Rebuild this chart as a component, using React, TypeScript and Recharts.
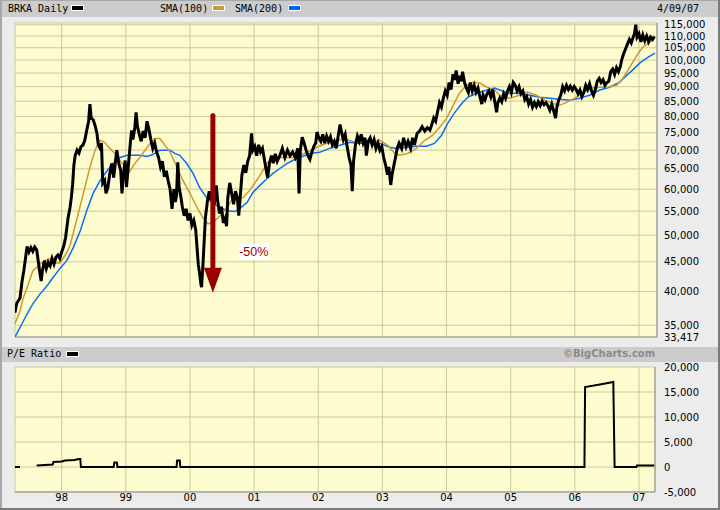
import React from 'react';
import { ComposedChart, Line, XAxis, YAxis, CartesianGrid, ReferenceLine, ReferenceDot } from 'recharts';

// ---------- data ----------
const yearTicks = [1998, 1999, 2000, 2001, 2002, 2003, 2004, 2005, 2006, 2007];
const priceTicks = [33417, 35000, 40000, 45000, 50000, 55000, 60000, 65000, 70000, 75000, 80000, 85000, 90000, 95000, 100000, 105000, 110000, 115000];
const peTicks = [-5000, 0, 5000, 10000, 15000, 20000];

// [date (decimal year), BRKA daily price]
const priceSeries: [number, number][] = [
  [1997.27, 36800], [1997.30, 38200], [1997.35, 39000], [1997.38, 41500], [1997.41, 43500], [1997.44, 46000],
  [1997.46, 47800], [1997.49, 46800], [1997.52, 47600], [1997.55, 46900], [1997.58, 47700], [1997.61, 47200],
  [1997.63, 45500], [1997.66, 43000], [1997.68, 41700], [1997.70, 43500], [1997.73, 45200], [1997.76, 43800],
  [1997.79, 44900], [1997.82, 44300], [1997.85, 45600], [1997.88, 44600], [1997.91, 45800], [1997.94, 46200],
  [1997.97, 45600], [1998.00, 46800], [1998.03, 47800], [1998.06, 49500], [1998.08, 51500], [1998.10, 53600],
  [1998.13, 55800], [1998.15, 58000], [1998.17, 61000], [1998.19, 66000], [1998.21, 68500], [1998.24, 70000],
  [1998.27, 69200], [1998.30, 71000], [1998.33, 71400], [1998.36, 72800], [1998.39, 75700], [1998.42, 78500],
  [1998.44, 84000], [1998.46, 79400], [1998.49, 79000], [1998.52, 77200], [1998.55, 74800], [1998.57, 71500],
  [1998.60, 70500], [1998.62, 72000], [1998.64, 61400], [1998.67, 62100], [1998.69, 59000], [1998.72, 60400],
  [1998.75, 63800], [1998.78, 66400], [1998.81, 62800], [1998.84, 67200], [1998.86, 70000], [1998.89, 66400],
  [1998.92, 64600], [1998.94, 59000], [1998.96, 63300], [1998.99, 67200], [1999.01, 60500], [1999.04, 66000],
  [1999.07, 72000], [1999.09, 75700], [1999.11, 73000], [1999.14, 76500], [1999.16, 81300], [1999.18, 77000],
  [1999.21, 74500], [1999.24, 72500], [1999.27, 75500], [1999.30, 73500], [1999.33, 78500], [1999.36, 76000],
  [1999.39, 73000], [1999.42, 70500], [1999.45, 72000], [1999.48, 69500], [1999.51, 68000], [1999.54, 65500],
  [1999.57, 67000], [1999.60, 63000], [1999.63, 64500], [1999.66, 62000], [1999.69, 60000], [1999.72, 55500],
  [1999.75, 60000], [1999.77, 57000], [1999.79, 58500], [1999.81, 66700], [1999.83, 60500], [1999.86, 58000],
  [1999.88, 56000], [1999.91, 54000], [1999.94, 55500], [1999.97, 53000], [2000.00, 54500], [2000.03, 52000],
  [2000.06, 53000], [2000.09, 51000], [2000.11, 47600], [2000.13, 44500], [2000.15, 43000], [2000.17, 41200],
  [2000.18, 40700], [2000.20, 44000], [2000.22, 48500], [2000.24, 53500], [2000.27, 57000], [2000.30, 59500],
  [2000.33, 57500], [2000.35, 59000], [2000.38, 56500], [2000.41, 60900], [2000.43, 57500], [2000.46, 54500],
  [2000.49, 56000], [2000.52, 52500], [2000.55, 53500], [2000.57, 51800], [2000.59, 58000], [2000.62, 61500],
  [2000.65, 59000], [2000.68, 56500], [2000.71, 59500], [2000.74, 58000], [2000.76, 54000], [2000.78, 57500],
  [2000.81, 63500], [2000.84, 66000], [2000.87, 64000], [2000.90, 67000], [2000.93, 68500], [2000.96, 74800],
  [2000.98, 70000], [2001.01, 71000], [2001.04, 68500], [2001.07, 71500], [2001.10, 69500], [2001.13, 70500],
  [2001.16, 67500], [2001.19, 64500], [2001.21, 62800], [2001.24, 66500], [2001.27, 68500], [2001.30, 66500],
  [2001.33, 69000], [2001.36, 67000], [2001.40, 68500], [2001.44, 70500], [2001.48, 68000], [2001.52, 70000],
  [2001.56, 68500], [2001.60, 69500], [2001.64, 68000], [2001.68, 70500], [2001.70, 59000], [2001.72, 70000],
  [2001.75, 73700], [2001.78, 72000], [2001.81, 70000], [2001.84, 68500], [2001.87, 67500], [2001.90, 69500],
  [2001.93, 71000], [2001.96, 72000], [2001.98, 75200], [2002.01, 73500], [2002.04, 72500], [2002.07, 74500],
  [2002.10, 72000], [2002.13, 74000], [2002.16, 72500], [2002.19, 73800], [2002.22, 71500], [2002.25, 72500],
  [2002.28, 70500], [2002.31, 74000], [2002.34, 77500], [2002.36, 75500], [2002.39, 73000], [2002.42, 74500],
  [2002.45, 71000], [2002.48, 68000], [2002.51, 66000], [2002.53, 59500], [2002.55, 67000], [2002.58, 71500],
  [2002.61, 74000], [2002.64, 72500], [2002.67, 74500], [2002.70, 72000], [2002.73, 73500], [2002.75, 68500],
  [2002.78, 72500], [2002.81, 73500], [2002.84, 71500], [2002.87, 73000], [2002.90, 70500], [2002.93, 72000],
  [2002.96, 70000], [2002.99, 71000], [2003.02, 68000], [2003.05, 66000], [2003.08, 63500], [2003.10, 65500],
  [2003.13, 61000], [2003.15, 63500], [2003.18, 66000], [2003.21, 68500], [2003.23, 70500], [2003.26, 72000],
  [2003.30, 70500], [2003.33, 73500], [2003.37, 71000], [2003.40, 72500], [2003.44, 70500], [2003.47, 73500],
  [2003.50, 71500], [2003.54, 74800], [2003.58, 75500], [2003.62, 76800], [2003.66, 75500], [2003.70, 76500],
  [2003.74, 75800], [2003.77, 77500], [2003.80, 79500], [2003.83, 78500], [2003.86, 81500], [2003.89, 84500],
  [2003.92, 83000], [2003.95, 86000], [2003.98, 88500], [2004.01, 87000], [2004.04, 91500], [2004.07, 89000],
  [2004.10, 94500], [2004.13, 92500], [2004.15, 96000], [2004.18, 91000], [2004.20, 94000], [2004.23, 92000],
  [2004.25, 95500], [2004.28, 91500], [2004.31, 89500], [2004.34, 88000], [2004.37, 91500], [2004.40, 88500],
  [2004.43, 90500], [2004.46, 88000], [2004.49, 89500], [2004.52, 86500], [2004.55, 84000], [2004.57, 87000],
  [2004.60, 85500], [2004.63, 87500], [2004.66, 88500], [2004.69, 86500], [2004.72, 89000], [2004.75, 85000],
  [2004.78, 81300], [2004.80, 84500], [2004.83, 86000], [2004.86, 84800], [2004.89, 87500], [2004.92, 86000],
  [2004.95, 88500], [2004.98, 90000], [2005.01, 88000], [2005.04, 91500], [2005.07, 90500], [2005.10, 88500],
  [2005.13, 90000], [2005.16, 87500], [2005.19, 88500], [2005.22, 85500], [2005.25, 86500], [2005.28, 84000],
  [2005.31, 85500], [2005.34, 83000], [2005.37, 84500], [2005.40, 83200], [2005.43, 84800], [2005.46, 83500],
  [2005.49, 85000], [2005.52, 83800], [2005.55, 84500], [2005.58, 83500], [2005.61, 82000], [2005.64, 84000],
  [2005.67, 81800], [2005.70, 79500], [2005.72, 83000], [2005.75, 85500], [2005.78, 87000], [2005.81, 90000],
  [2005.84, 88500], [2005.87, 90500], [2005.90, 89000], [2005.93, 90200], [2005.96, 88800], [2005.99, 90000],
  [2006.02, 89000], [2006.05, 87500], [2006.08, 88800], [2006.11, 86500], [2006.14, 88000], [2006.17, 90500],
  [2006.20, 89000], [2006.23, 91000], [2006.26, 88500], [2006.29, 87000], [2006.32, 89000], [2006.35, 92000],
  [2006.38, 93000], [2006.41, 91500], [2006.44, 92500], [2006.47, 90500], [2006.50, 91500], [2006.53, 92000],
  [2006.56, 95500], [2006.59, 96500], [2006.62, 94500], [2006.65, 97000], [2006.68, 95500], [2006.71, 97500],
  [2006.73, 100000], [2006.76, 102500], [2006.79, 104500], [2006.82, 106500], [2006.85, 108500], [2006.88, 107000],
  [2006.91, 109500], [2006.93, 111000], [2006.95, 115000], [2006.97, 109500], [2007.00, 111000], [2007.03, 107500],
  [2007.06, 110500], [2007.09, 108000], [2007.12, 110000], [2007.15, 107500], [2007.18, 109500], [2007.21, 108500],
  [2007.24, 109800],
];

// [date, 100-day simple moving average]
const sma100Series: [number, number][] = [
  [1997.27, 35200], [1997.35, 37000], [1997.40, 39000], [1997.46, 40600], [1997.51, 42200], [1997.55, 43400],
  [1997.61, 44000], [1997.66, 44600], [1997.74, 45200], [1997.82, 45600], [1997.90, 44800], [1997.97, 44800],
  [1998.02, 45600], [1998.07, 46500], [1998.13, 48000], [1998.21, 51900], [1998.29, 56200], [1998.36, 60400],
  [1998.44, 65400], [1998.52, 70000], [1998.60, 72800], [1998.67, 72200], [1998.75, 70500], [1998.83, 69100],
  [1998.91, 67200], [1998.99, 65400], [1999.05, 64100], [1999.14, 66400], [1999.22, 68000], [1999.30, 70000],
  [1999.38, 71900], [1999.45, 73300], [1999.53, 73300], [1999.61, 71400], [1999.69, 69400], [1999.80, 65400],
  [1999.89, 62100], [2000.00, 59000], [2000.11, 55800], [2000.20, 53600], [2000.28, 52300], [2000.36, 52600],
  [2000.47, 54000], [2000.58, 55800], [2000.65, 57400], [2000.75, 57700], [2000.83, 58000], [2000.93, 59700],
  [2001.04, 62100], [2001.12, 64100], [2001.20, 66400], [2001.29, 68000], [2001.45, 68000], [2001.60, 68000],
  [2001.71, 68600], [2001.82, 69400], [2001.98, 70800], [2002.13, 71900], [2002.26, 72200], [2002.38, 73300],
  [2002.60, 72200], [2002.80, 72200], [2002.96, 72800], [2003.08, 71400], [2003.19, 69100], [2003.27, 68600],
  [2003.39, 69100], [2003.53, 70500], [2003.66, 72800], [2003.78, 74200], [2003.89, 76600], [2004.00, 79400],
  [2004.09, 83000], [2004.20, 87700], [2004.31, 90500], [2004.41, 91600], [2004.52, 91300], [2004.63, 89800],
  [2004.75, 88800], [2004.83, 87000], [2004.98, 86000], [2005.14, 87000], [2005.26, 88100], [2005.40, 87000],
  [2005.53, 85300], [2005.65, 84300], [2005.76, 83600], [2005.87, 84600], [2006.00, 86000], [2006.12, 87700],
  [2006.26, 89500], [2006.39, 89800], [2006.51, 89800], [2006.65, 90500], [2006.75, 93100], [2006.86, 97300],
  [2006.97, 102000], [2007.06, 105300], [2007.17, 107400], [2007.25, 109100],
];

// [date, 200-day simple moving average]
const sma200Series: [number, number][] = [
  [1997.27, 33400], [1997.35, 34700], [1997.46, 36600], [1997.55, 38100], [1997.66, 39600], [1997.77, 40900],
  [1997.86, 42200], [1997.97, 43800], [1998.08, 45200], [1998.18, 47600], [1998.29, 50900], [1998.39, 55100],
  [1998.49, 59000], [1998.60, 62100], [1998.71, 64600], [1998.80, 66400], [1998.91, 68000], [1999.02, 68600],
  [1999.11, 68600], [1999.22, 68600], [1999.33, 68300], [1999.42, 68800], [1999.53, 70000], [1999.64, 70000],
  [1999.69, 70000], [1999.76, 69100], [1999.84, 68600], [1999.95, 66400], [2000.05, 63800], [2000.15, 60400],
  [2000.26, 58000], [2000.36, 56700], [2000.47, 55800], [2000.58, 55100], [2000.70, 54900], [2000.78, 55600],
  [2000.89, 56900], [2000.98, 59200], [2001.09, 60900], [2001.20, 62500], [2001.29, 63800], [2001.40, 65100],
  [2001.51, 66400], [2001.60, 67200], [2001.71, 68000], [2001.87, 69100], [2002.02, 69400], [2002.18, 70500],
  [2002.34, 71400], [2002.49, 72200], [2002.65, 71900], [2002.80, 72200], [2002.96, 71900], [2003.11, 70800],
  [2003.22, 70500], [2003.38, 70800], [2003.53, 71100], [2003.69, 71100], [2003.81, 71900], [2003.92, 74200],
  [2004.02, 77900], [2004.13, 81300], [2004.24, 84300], [2004.33, 86300], [2004.47, 87700], [2004.63, 88800],
  [2004.75, 89500], [2004.83, 88800], [2004.98, 87700], [2005.14, 87700], [2005.30, 87000], [2005.45, 86300],
  [2005.61, 86000], [2005.76, 85600], [2005.92, 85300], [2006.07, 86000], [2006.23, 87000], [2006.39, 88800],
  [2006.54, 89800], [2006.70, 91600], [2006.81, 94200], [2006.90, 96100], [2007.01, 98800], [2007.12, 100800],
  [2007.25, 102800],
];

// [date, P/E ratio] (null = gap)
const peSeries: [number, number | null][] = [
  [1997.27, 0], [1997.35, 0], [1997.36, null], [1997.60, null], [1997.61, 300], [1997.86, 500],
  [1997.87, 1000], [1998.00, 1100], [1998.05, 1300], [1998.20, 1400], [1998.27, 1600], [1998.29, 1600],
  [1998.30, 0], [1998.81, 0], [1998.82, 900], [1998.86, 900], [1998.87, 0], [1999.79, 0],
  [1999.80, 1300], [1999.84, 1300], [1999.85, 0], [2006.15, 0], [2006.16, 16000], [2006.39, 16500],
  [2006.60, 17000], [2006.62, 0], [2006.96, 0], [2006.97, 300], [2007.24, 300],
];

// annotation: -50% drop arrow
const arrowDate = 2000.357;
const arrowFrom = 81000;
const arrowTo = 39800;
const dropLabel = '-50%';
const dropLabelPos: [number, number] = [2000.995, 46800];

// ---------- helpers ----------
const T0 = 1997.272;
const T1 = 2007.281;
const T1b = 2007.25;
const fmt = (v: number) => v.toLocaleString('en-US');
const toRows = (s: [number, number | null][]) => s.map(([t, v]) => ({ t, v }));
const priceData = toRows(priceSeries);
const sma100Data = toRows(sma100Series);
const sma200Data = toRows(sma200Series);
const peData = toRows(peSeries);

const RED = '#990000';
const GRID = '#cdc99a';
const PLOT_BG = '#fdfccf';

const ArrowShape = (p: any) => {
  const { x1, y1, y2 } = p;
  const headLen = 25;
  const headHalf = 9;
  const shaftHalf = 2.5;
  return (
    <g>
      <rect x={x1 - shaftHalf} y={y1} width={shaftHalf * 2} height={y2 - y1 - headLen + 1} rx={2} fill={RED} />
      <polygon points={`${x1 - headHalf},${y2 - headLen} ${x1 + headHalf},${y2 - headLen} ${x1},${y2}`} fill={RED} />
    </g>
  );
};

const LabelShape = (p: any) => {
  const { cx, cy } = p;
  return (
    <g>
      <rect x={cx - 15} y={cy - 8} width={30} height={16} fill="#ffffff" />
      <text x={cx} y={cy + 4.5} textAnchor="middle" fontSize={12.5} fontFamily="Liberation Sans, Arial, sans-serif" fill={RED}>
        {dropLabel}
      </text>
    </g>
  );
};

const Swatch = ({ color, left, top }: { color: string; left: number; top: number }) => (
  <div style={{ position: 'absolute', left, top, width: 11, height: 4, background: color, border: '1px solid #ffffff' }} />
);

const monoText: React.CSSProperties = {
  position: 'absolute',
  fontFamily: '"DejaVu Sans Mono", monospace',
  fontSize: 10,
  lineHeight: '12px',
  color: '#000',
  whiteSpace: 'nowrap',
};

const tickStyle = { fontSize: 10, fill: '#000', fontFamily: '"DejaVu Sans", sans-serif' };

export default function App() {
  return (
    <div style={{ position: 'absolute', left: 0, top: 0, width: 720, height: 510, background: '#ececec', overflow: 'hidden' }}>
      {/* frame */}
      <div style={{ position: 'absolute', left: 0, top: 0, width: 2, height: 510, background: '#a8a8a8' }} />
      <div style={{ position: 'absolute', left: 0, top: 0, width: 720, height: 1, background: '#a8a8a8' }} />
      <div style={{ position: 'absolute', right: 0, top: 0, width: 2, height: 510, background: '#7a7a7a' }} />
      <div style={{ position: 'absolute', left: 0, bottom: 0, width: 720, height: 2, background: '#7a7a7a' }} />

      {/* header 1 */}
      <div style={{ position: 'absolute', left: 2, top: 1, width: 716, height: 16, background: '#cccccc' }} />
      <div style={{ ...monoText, left: 8, top: 3 }}>BRKA Daily</div>
      <Swatch color="#000000" left={71} top={5} />
      <div style={{ ...monoText, left: 160, top: 3 }}>SMA(100)</div>
      <Swatch color="#cc9933" left={212} top={5} />
      <div style={{ ...monoText, left: 235, top: 3 }}>SMA(200)</div>
      <Swatch color="#0066ff" left={288} top={5} />
      <div style={{ ...monoText, left: 657, top: 3 }}>4/09/07</div>

      {/* header 2 */}
      <div style={{ position: 'absolute', left: 2, top: 347, width: 716, height: 15, background: '#cccccc' }} />
      <div style={{ ...monoText, left: 7, top: 348 }}>P/E Ratio</div>
      <Swatch color="#000000" left={66} top={351} />
      <div
        style={{
          position: 'absolute', left: 563, top: 348, fontFamily: '"DejaVu Sans", sans-serif', fontWeight: 'bold',
          fontSize: 10, lineHeight: '12px', color: '#8a8a8a', whiteSpace: 'nowrap',
        }}
      >
        ©BigCharts.com
      </div>

      {/* main price chart */}
      <div style={{ position: 'absolute', left: 0, top: 0 }}>
        <ComposedChart width={720} height={345} margin={{ top: 23, right: 0, bottom: 8, left: 15 }}>
          <CartesianGrid fill={PLOT_BG} stroke={GRID} strokeWidth={1} />
          <XAxis type="number" dataKey="t" domain={[T0, T1]} ticks={yearTicks} hide allowDataOverflow />
          <YAxis
            orientation="right"
            scale="log"
            domain={[33417, 115800]}
            ticks={priceTicks}
            allowDataOverflow
            interval={0}
            width={63}
            tickLine={false}
            axisLine={{ stroke: '#8c8c8c' }}
            tickSize={0}
            tickMargin={7}
            tick={tickStyle}
            tickFormatter={fmt}
          />
          <ReferenceLine y={33417} stroke="#9a9a9a" />
          <Line data={sma200Data} dataKey="v" stroke="#0a6cff" strokeWidth={1.5} dot={false} isAnimationActive={false} />
          <Line data={sma100Data} dataKey="v" stroke="#cc9933" strokeWidth={1.5} dot={false} isAnimationActive={false} />
          <Line data={priceData} dataKey="v" stroke="#000000" strokeWidth={3} strokeLinejoin="miter" dot={false} isAnimationActive={false} />
          <ReferenceLine
            segment={[{ x: arrowDate, y: arrowFrom }, { x: arrowDate, y: arrowTo }]}
            shape={ArrowShape}
            ifOverflow="visible"
          />
          <ReferenceDot x={dropLabelPos[0]} y={dropLabelPos[1]} r={0} shape={LabelShape} ifOverflow="visible" />
        </ComposedChart>
      </div>

      {/* P/E chart */}
      <div style={{ position: 'absolute', left: 0, top: 360 }}>
        <ComposedChart width={720} height={150} margin={{ top: 7, right: 0, bottom: 0, left: 15 }}>
          <CartesianGrid fill={PLOT_BG} stroke={GRID} strokeWidth={1} />
          <XAxis
            type="number"
            dataKey="t"
            domain={[T0, T1b]}
            ticks={yearTicks}
            allowDataOverflow
            interval={0}
            height={18}
            tickLine={false}
            axisLine={{ stroke: '#8c8c8c' }}
            tickSize={0}
            tickMargin={2}
            tick={tickStyle}
            tickFormatter={(y: number) => String(y).slice(2)}
          />
          <YAxis
            orientation="right"
            domain={[-5000, 20000]}
            ticks={peTicks}
            allowDataOverflow
            interval={0}
            width={65}
            tickLine={false}
            axisLine={{ stroke: '#8c8c8c' }}
            tickSize={0}
            tickMargin={9}
            tick={tickStyle}
            tickFormatter={fmt}
          />
          <Line data={peData} dataKey="v" stroke="#000000" strokeWidth={2} dot={false} connectNulls={false} isAnimationActive={false} />
        </ComposedChart>
      </div>
    </div>
  );
}
